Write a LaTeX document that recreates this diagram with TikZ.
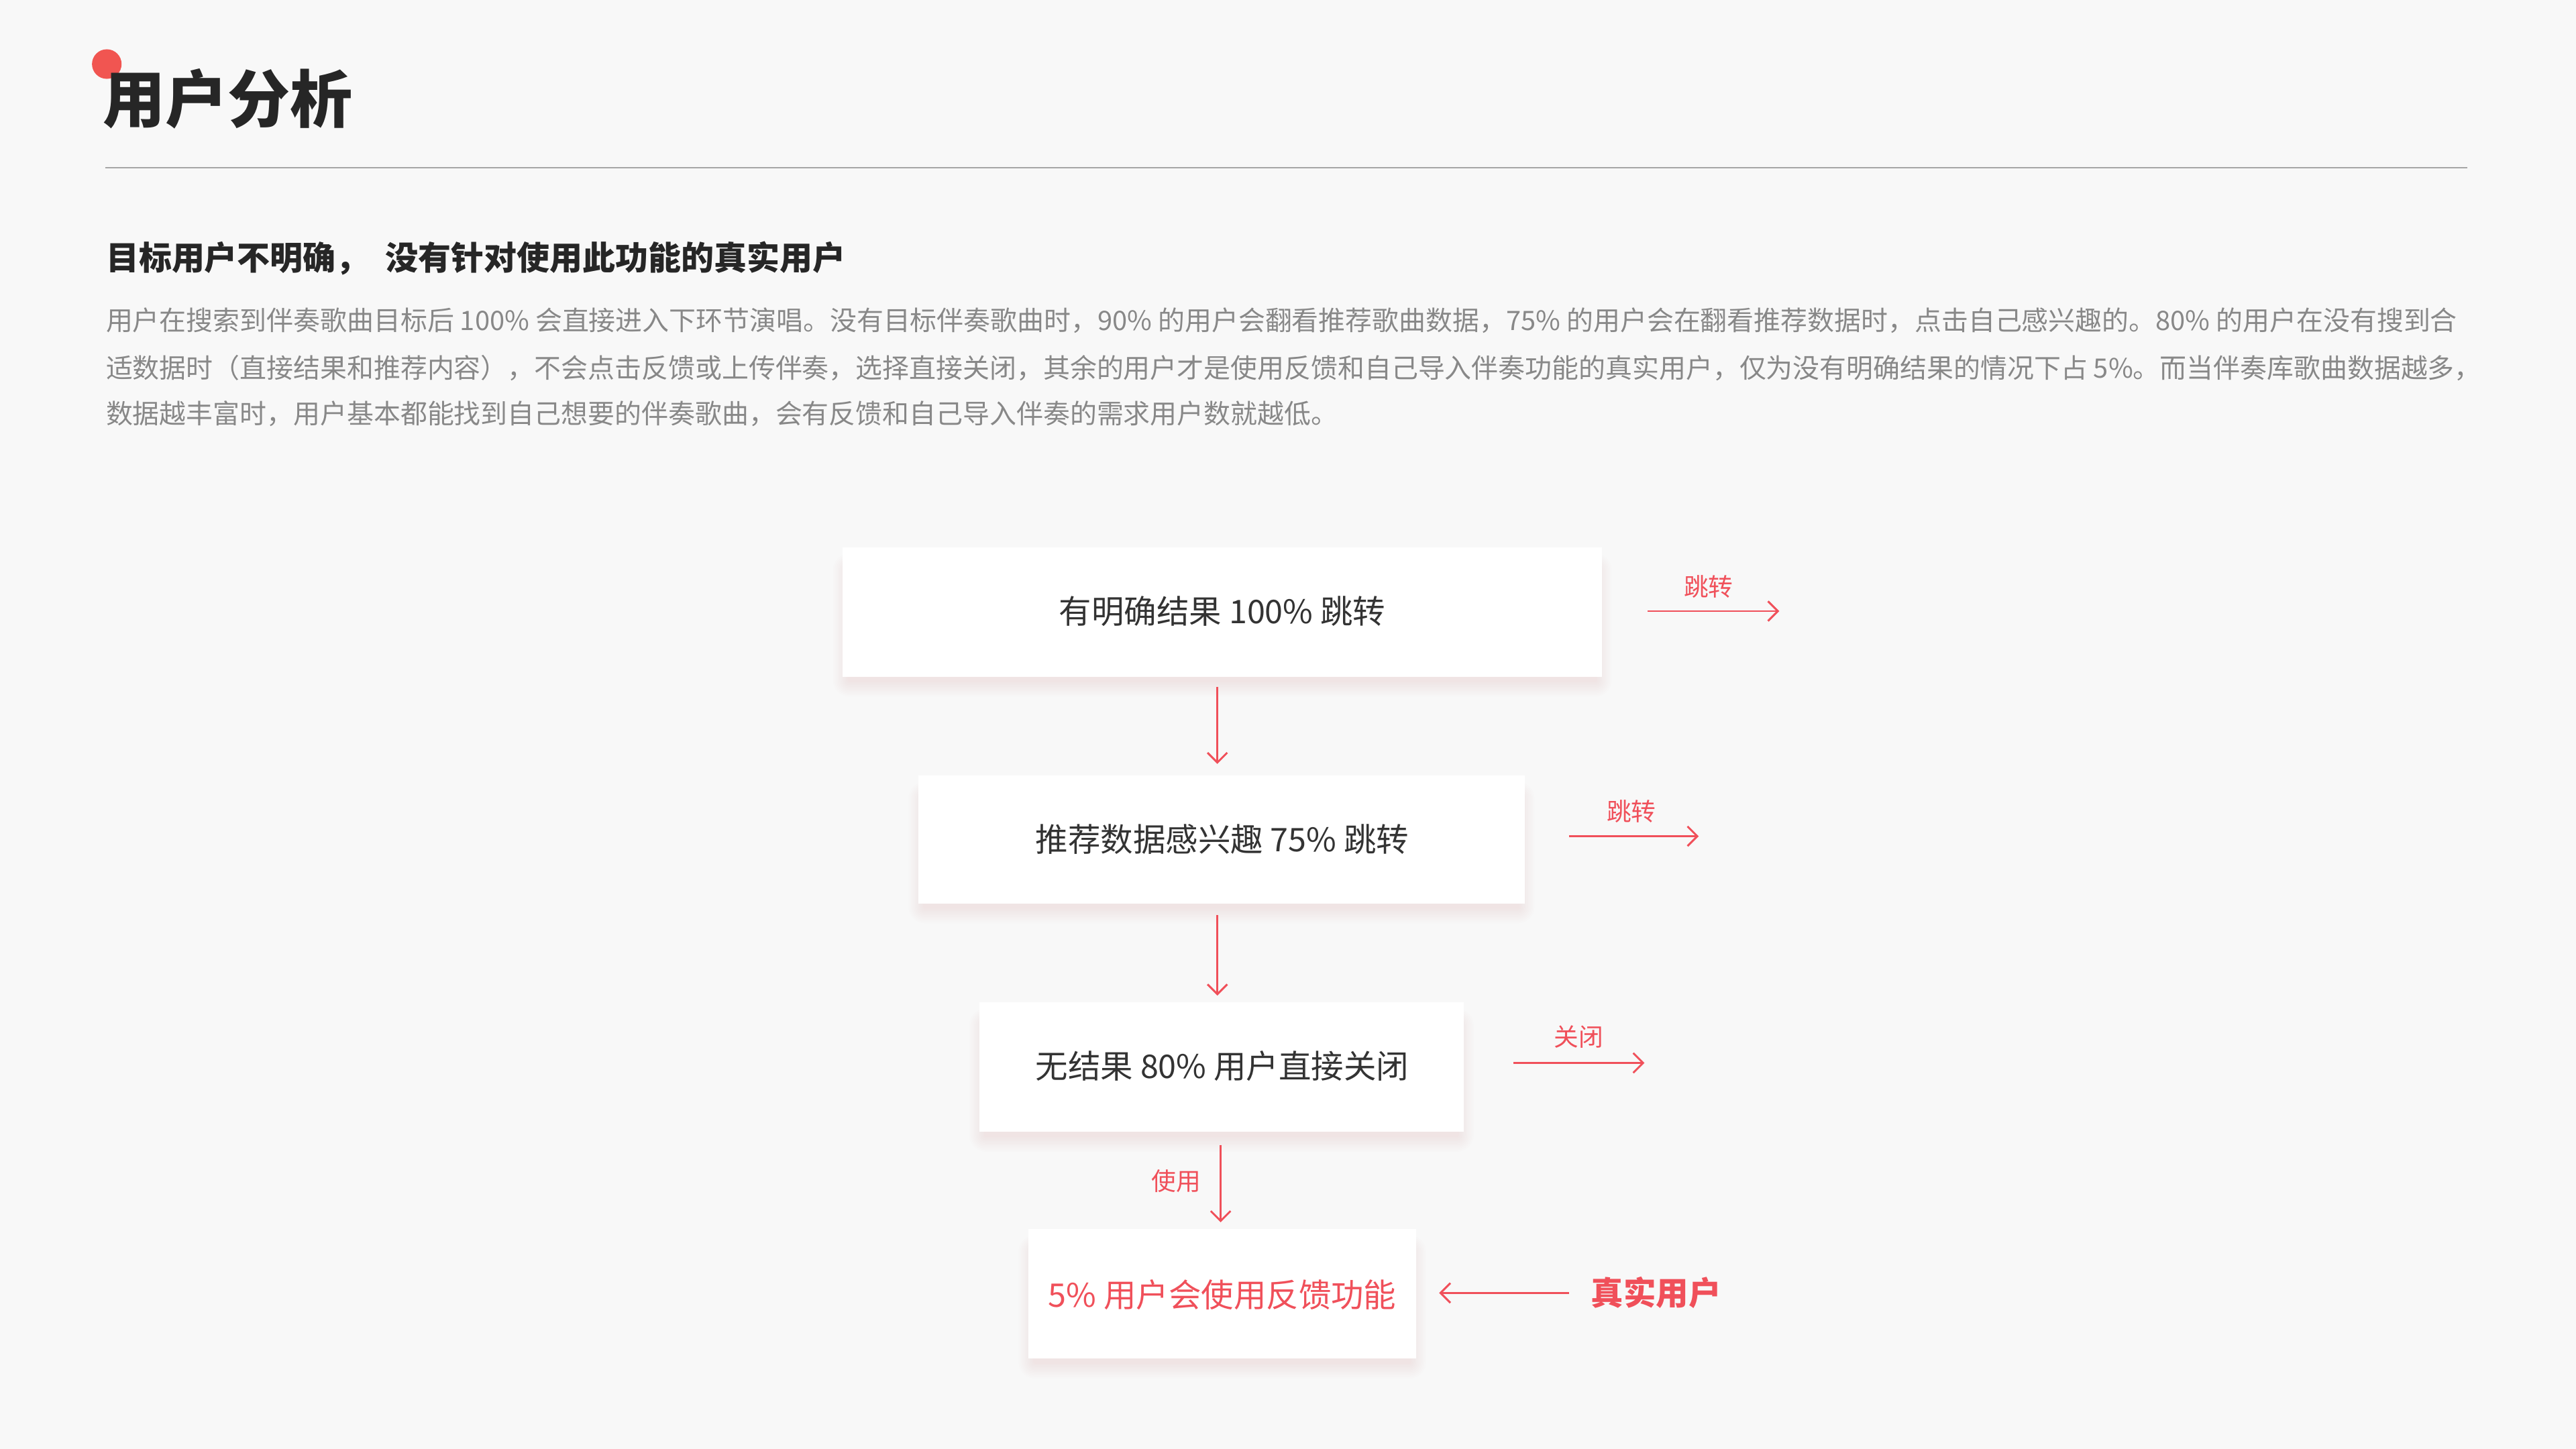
\documentclass[tikz,border=0pt]{standalone}
\usepackage{fontspec}
\setmainfont{Noto Sans CJK SC}
\usetikzlibrary{arrows.meta,calc}
\definecolor{bg}{HTML}{F8F8F8}
\definecolor{accent}{HTML}{F0505A}
\definecolor{txt}{HTML}{333333}
\definecolor{para}{HTML}{888888}
\tikzset{
  cardtext/.style={font=\fontsize{19.8}{22}\selectfont, text=txt},
  flow/.style={draw=accent, line width=1.2pt, -{Straight Barb[length=6pt,width=12pt]}},
  lab/.style={font=\fontsize{15}{18}\selectfont, text=accent},
  partext/.style={font=\fontsize{16.3}{18}\selectfont, text=para, anchor=west},
}
\newcommand{\mycard}[4]{%
  \foreach \k in {1,...,10} {
    \fill[accent, opacity=0.012, rounded corners=\k pt] ($(#1-\k+4,#2-\k+14)$) rectangle ($(#3+\k-4,#4+\k+2)$);
  }
  \fill[white] (#1,#2) rectangle (#3,#4);
}
\begin{document}
\begin{tikzpicture}[x=1pt,y=-1pt]
\fill[bg] (0,0) rectangle (1568,882);
\useasboundingbox (0,0) rectangle (1568,882);
\fill[accent!90!orange] (65,39) circle (9);
\node[anchor=west, font=\bfseries\fontsize{38}{42}\selectfont, text=black!85] (title) at (59,60) {用户分析};
\draw[black!35, line width=1pt] (64,102) -- (1502,102);
\node[anchor=west, font=\bfseries\fontsize{20}{24}\selectfont, text=black!85] (head) at (61,157) {目标用户不明确，\hspace{0.5em}没有针对使用此功能的真实用户};
\node[partext] (p1) at (61,195) {用户在搜索到伴奏歌曲目标后 100\% 会直接进入下环节演唱。没有目标伴奏歌曲时，90\% 的用户会翻看推荐歌曲数据，75\% 的用户会在翻看推荐数据时，点击自己感兴趣的。80\% 的用户在没有搜到合};
\node[partext] (p2) at (61,224) {适数据时（直接结果和推荐内容），不会点击反馈或上传伴奏，选择直接关闭，其余的用户才是使用反馈和自己导入伴奏功能的真实用户，仅为没有明确结果的情况下占 5\%。而当伴奏库歌曲数据越多，};
\node[partext] (p3) at (61,252) {数据越丰富时，用户基本都能找到自己想要的伴奏歌曲，会有反馈和自己导入伴奏的需求用户数就越低。};

\mycard{513}{333}{975}{412}
\mycard{559}{472}{928}{550}
\mycard{596}{610}{891}{689}
\mycard{626}{748}{862}{827}
\node[cardtext] (b1) at (744,372) {有明确结果 100\% 跳转};
\node[cardtext] (b2) at (744,511) {推荐数据感兴趣 75\% 跳转};
\node[cardtext] (b3) at (744,649) {无结果 80\% 用户直接关闭};
\node[cardtext, text=accent] (b4) at (744,788) {5\% 用户会使用反馈功能};

\coordinate (d1a) at (741,418); \coordinate (d1b) at (741,465);
\coordinate (d2a) at (741,557); \coordinate (d2b) at (741,606);
\coordinate (d3a) at (743,697); \coordinate (d3b) at (743,744);
\draw[flow] (d1a) -- (d1b);
\draw[flow] (d2a) -- (d2b);
\draw[flow] (d3a) -- (d3b);
\node[lab] (use) at (716,719) {使用};

\coordinate (r1a) at (1003,372); \coordinate (r1b) at (1083,372);
\coordinate (r2a) at (955,509); \coordinate (r2b) at (1034,509);
\coordinate (r3a) at (921,647); \coordinate (r3b) at (1001,647);
\draw[flow] (r1a) -- (r1b);
\draw[flow] (r2a) -- (r2b);
\draw[flow] (r3a) -- (r3b);
\node[lab] (l1) at (1040,357) {跳转};
\node[lab] (l2) at (993,494) {跳转};
\node[lab] (l3) at (961,631) {关闭};

\node[font=\bfseries\fontsize{19.8}{22}\selectfont, text=accent] (real) at (1008,787) {真实用户};
\coordinate (ra) at (955,787); \coordinate (rb) at (876,787);
\draw[flow] (ra) -- (rb);
\end{tikzpicture}
\end{document}
